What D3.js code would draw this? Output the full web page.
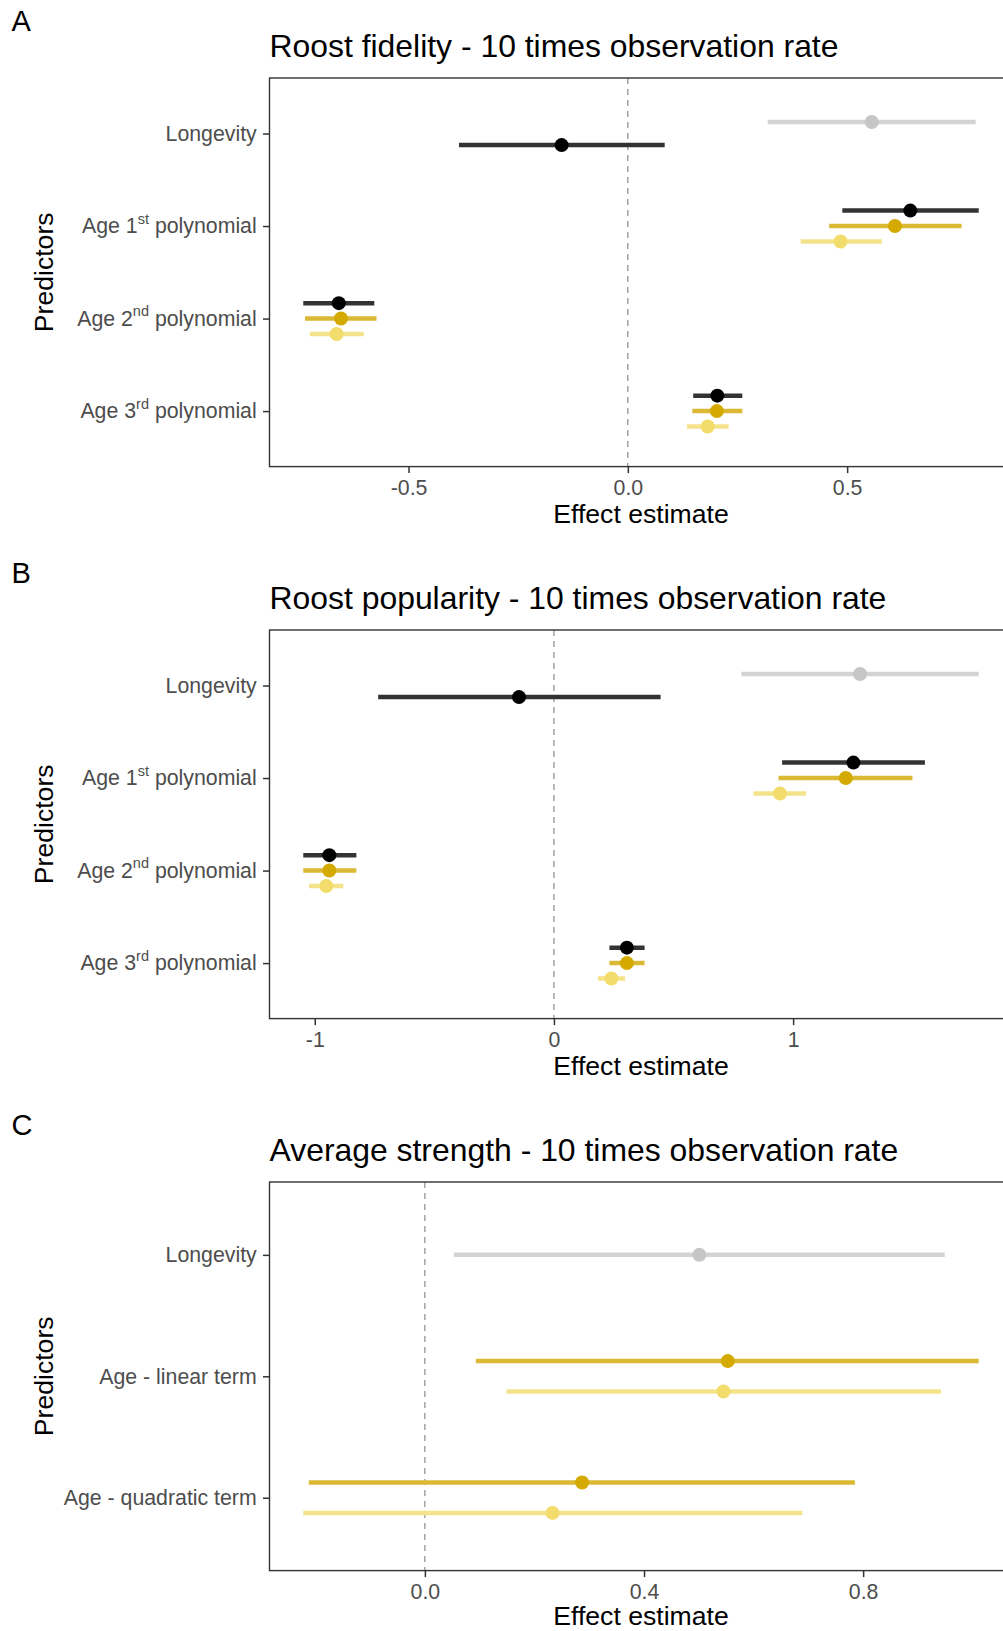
<!DOCTYPE html>
<html>
<head>
<meta charset="utf-8">
<script src="https://cdn.jsdelivr.net/npm/d3@7"></script>
<style>
  body { margin: 0; background: #fff; }
  svg { display: block; font-family: "Liberation Sans", Arial, Helvetica, sans-serif; }
</style>
</head>
<body>
<svg id="fig" width="1003" height="1631"></svg>
<script>
// ---- Model series (draw order within each predictor, top to bottom) ----
const seriesKeys   = ["longevity", "combined", "age", "ageSubset"];
const seriesPoint  = ["#c6c6c6", "#000000", "#d4aa00", "#f2dc6b"];
const seriesLine   = ["#d3d3d3", "#333333", "#dbb935", "#f5e38b"];

// ---- Panel A: roost fidelity ----
const fidelityTerms  = ["Longevity", "Age 1^st polynomial", "Age 2^nd polynomial", "Age 3^rd polynomial"];
const fidelityTerm   = [0, 0, 1, 1, 1, 2, 2, 2, 3, 3, 3];
const fidelitySeries = ["longevity", "combined", "combined", "age", "ageSubset", "combined", "age", "ageSubset", "combined", "age", "ageSubset"];
const fidelityEst    = [0.556, -0.151, 0.644, 0.609, 0.485, -0.659, -0.654, -0.664, 0.204, 0.203, 0.182];
const fidelityLow    = [0.319, -0.385, 0.489, 0.459, 0.394, -0.740, -0.736, -0.725, 0.149, 0.147, 0.135];
const fidelityHigh   = [0.793,  0.084, 0.800, 0.761, 0.579, -0.578, -0.573, -0.602, 0.261, 0.261, 0.230];
const fidelityTicks  = ["-0.5", "0.0", "0.5"];

// ---- Panel B: roost popularity ----
const popularityTerms  = ["Longevity", "Age 1^st polynomial", "Age 2^nd polynomial", "Age 3^rd polynomial"];
const popularityTerm   = [0, 0, 1, 1, 1, 2, 2, 2, 3, 3, 3];
const popularitySeries = ["longevity", "combined", "combined", "age", "ageSubset", "combined", "age", "ageSubset", "combined", "age", "ageSubset"];
const popularityEst    = [1.280, -0.146, 1.252, 1.220, 0.945, -0.939, -0.939, -0.952, 0.305, 0.305, 0.240];
const popularityLow    = [0.784, -0.735, 0.954, 0.939, 0.834, -1.048, -1.048, -1.024, 0.232, 0.232, 0.184];
const popularityHigh   = [1.776,  0.446, 1.551, 1.499, 1.054, -0.826, -0.826, -0.881, 0.379, 0.379, 0.297];
const popularityTicks  = ["-1", "0", "1"];

// ---- Panel C: average strength ----
const strengthTerms  = ["Longevity", "Age - linear term", "Age - quadratic term"];
const strengthTerm   = [0, 1, 1, 2, 2];
const strengthSeries = ["longevity", "age", "ageSubset", "age", "ageSubset"];
const strengthEst    = [0.501, 0.553, 0.545, 0.287, 0.233];
const strengthLow    = [0.053, 0.093, 0.149, -0.212, -0.222];
const strengthHigh   = [0.949, 1.011, 0.942, 0.785, 0.689];
const strengthTicks  = ["0.0", "0.4", "0.8"];

const panels = [
  { tag: "A", title: "Roost fidelity - 10 times observation rate",
    terms: fidelityTerms, term: fidelityTerm, series: fidelitySeries,
    est: fidelityEst, low: fidelityLow, high: fidelityHigh, ticks: fidelityTicks },
  { tag: "B", title: "Roost popularity - 10 times observation rate",
    terms: popularityTerms, term: popularityTerm, series: popularitySeries,
    est: popularityEst, low: popularityLow, high: popularityHigh, ticks: popularityTicks },
  { tag: "C", title: "Average strength - 10 times observation rate",
    terms: strengthTerms, term: strengthTerm, series: strengthSeries,
    est: strengthEst, low: strengthLow, high: strengthHigh, ticks: strengthTicks }
];

// ---- Layout ----
const figHeight = 1631;
const svg = d3.select("#fig");
svg.append("rect").attr("width", 1003).attr("height", figHeight).attr("fill", "#fff");

const blockHeight = 552;
const plotLeft = 269.5, plotWidth = 743;
const plotTop = 78, plotHeight = 388.6;
const tickLen = 6.5;
const textGrey = "#4d4d4d";
const tickFont = 21.3, axisTitleFont = 26.6, titleFont = 31.9;

// Write "Age 1^st polynomial" with the suffix raised as a superscript
function writeLabel(textSel, label) {
  textSel.text(null);
  const m = label.match(/^(.*?)\^(\w+)(.*)$/);
  if (!m) { textSel.text(label); return; }
  textSel.append("tspan").text(m[1]);
  textSel.append("tspan").attr("font-size", 14.5).attr("dy", -9.5).text(m[2]);
  textSel.append("tspan").attr("dy", 9.5).text(m[3]);
}

panels.forEach((p, k) => {
  const offsetY = k * blockHeight;
  const g = svg.append("g").attr("transform", `translate(0,${offsetY})`);

  const rows = p.est.map((e, i) => ({
    term: p.terms[p.term[i]], series: p.series[i],
    est: e, low: p.low[i], high: p.high[i]
  }));

  // x domain: data range padded by 5% on each side
  const lo = d3.min(rows, d => d.low), hi = d3.max(rows, d => d.high);
  const pad = (hi - lo) * 0.05;
  const x = d3.scaleLinear().domain([lo - pad, hi + pad])
    .range([plotLeft, plotLeft + plotWidth]);
  const y = d3.scalePoint().domain(p.terms)
    .range([plotTop, plotTop + plotHeight]).padding(0.6);

  // dodge the series within each predictor
  const dodge = 0.5 * y.step();
  const groups = d3.group(rows, d => d.term);
  rows.forEach(d => {
    const grp = groups.get(d.term);
    const n = grp.length, i = grp.indexOf(d);
    d.yPos = y(d.term) + (i - (n - 1) / 2) * (dodge / n);
    const s = seriesKeys.indexOf(d.series);
    d.pointColor = seriesPoint[s];
    d.lineColor = seriesLine[s];
  });

  // panel tag and title
  g.append("text").attr("x", 11.5).attr("y", 30.7)
    .attr("font-size", 29).attr("fill", "#000").text(p.tag);
  g.append("text").attr("x", plotLeft).attr("y", 57)
    .attr("font-size", titleFont).attr("fill", "#000").text(p.title);

  // zero reference line
  g.append("line")
    .attr("x1", x(0)).attr("x2", x(0))
    .attr("y1", plotTop).attr("y2", plotTop + plotHeight)
    .attr("stroke", "#808080").attr("stroke-width", 1.1)
    .attr("stroke-dasharray", "6,5");

  // intervals
  g.append("g").selectAll("line").data(rows).join("line")
    .attr("x1", d => x(d.low)).attr("x2", d => x(d.high))
    .attr("y1", d => d.yPos).attr("y2", d => d.yPos)
    .attr("stroke", d => d.lineColor).attr("stroke-width", 4.5);

  // estimates
  g.append("g").selectAll("circle").data(rows).join("circle")
    .attr("cx", d => x(d.est)).attr("cy", d => d.yPos).attr("r", 7)
    .attr("fill", d => d.pointColor);

  // panel border
  g.append("rect")
    .attr("x", plotLeft).attr("y", plotTop)
    .attr("width", plotWidth).attr("height", plotHeight)
    .attr("fill", "none").attr("stroke", "#333").attr("stroke-width", 1.4);

  // x axis
  const tickVals = p.ticks.map(Number);
  const xAxis = g.append("g")
    .attr("transform", `translate(0,${plotTop + plotHeight})`)
    .call(d3.axisBottom(x).tickValues(tickVals)
      .tickFormat((v, i) => p.ticks[i]).tickSize(tickLen).tickPadding(7));
  xAxis.select(".domain").remove();
  xAxis.selectAll(".tick line").attr("stroke", "#333").attr("stroke-width", 1.5);
  xAxis.selectAll(".tick text").attr("fill", textGrey)
    .attr("font-size", tickFont).attr("font-family", null);

  // y axis
  const yAxis = g.append("g")
    .attr("transform", `translate(${plotLeft},0)`)
    .call(d3.axisLeft(y).tickSize(tickLen).tickPadding(6.3));
  yAxis.select(".domain").remove();
  yAxis.selectAll(".tick line").attr("stroke", "#333").attr("stroke-width", 1.5);
  yAxis.selectAll(".tick text").attr("fill", textGrey)
    .attr("font-size", tickFont).attr("font-family", null)
    .each(function (d) { writeLabel(d3.select(this), d); });

  // axis titles (kept inside the figure's bottom edge)
  const titleBase = Math.min(plotTop + plotHeight + 56.6,
                             figHeight - offsetY - 0.22 * axisTitleFont);
  g.append("text")
    .attr("x", plotLeft + plotWidth / 2).attr("y", titleBase)
    .attr("text-anchor", "middle").attr("font-size", axisTitleFont).attr("fill", "#000")
    .text("Effect estimate");
  g.append("text")
    .attr("transform", `translate(52.5,${plotTop + plotHeight / 2}) rotate(-90)`)
    .attr("text-anchor", "middle").attr("font-size", axisTitleFont).attr("fill", "#000")
    .text("Predictors");
});
</script>
</body>
</html>
